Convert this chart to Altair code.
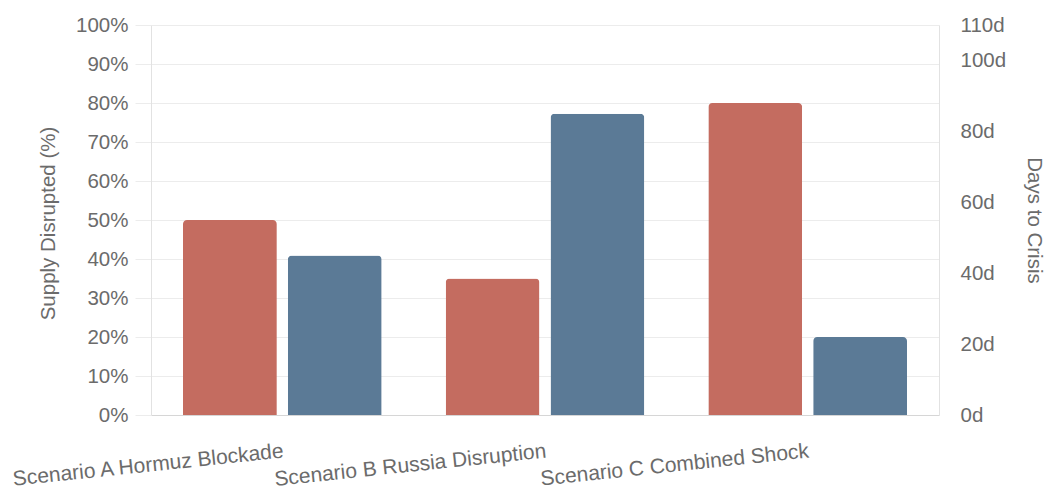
import altair as alt
import pandas as pd

# Scenario stress-test results
scenarios = ["Scenario A Hormuz Blockade", "Scenario B Russia Disruption", "Scenario C Combined Shock"]
supply_disrupted = [50, 35, 80]   # percent of supply lost
days_to_crisis = [45, 85, 22]     # days until crisis threshold

RED = "#c46c60"
BLUE = "#5b7a96"
FONT = "Liberation Sans"
TEXT = "#6b6b6b"
GRID = "#ececec"

df = pd.DataFrame({
    "scenario": scenarios,
    "supply": supply_disrupted,
    "days": days_to_crisis,
})

x_enc = alt.X(
    "scenario:N",
    sort=scenarios,
    title=None,
    scale=alt.Scale(paddingInner=0, paddingOuter=0),
    axis=alt.Axis(
        labelAngle=-6,
        labelAlign="right",
        labelBaseline="top",
        labelPadding=25,
        ticks=False,
        domainColor="#d6d6d6",
        labelFont=FONT,
        labelFontSize=21,
        labelColor=TEXT,
        labelLimit=400,
        grid=False,
    ),
)

offset_scale = alt.Scale(domain=["Supply", "Days"], paddingInner=0.105, paddingOuter=0.305)

supply_bars = (
    alt.Chart(df)
    .transform_calculate(series='"Supply"')
    .mark_bar(color=RED, cornerRadiusTopLeft=4, cornerRadiusTopRight=4)
    .encode(
        x=x_enc,
        xOffset=alt.XOffset("series:N", scale=offset_scale),
        y=alt.Y(
            "supply:Q",
            scale=alt.Scale(domain=[0, 100], nice=False),
            axis=alt.Axis(
                orient="left",
                values=list(range(0, 101, 10)),
                labelExpr="datum.value + '%'",
                title="Supply Disrupted (%)",
                titleFont=FONT,
                titleFontSize=20.5,
                titleFontWeight="normal",
                titleColor=TEXT,
                titleAngle=-90,
                titleX=-103,
                titleY=198,
                titleAlign="center",
                titleBaseline="middle",
                labelFont=FONT,
                labelFontSize=20.5,
                labelColor=TEXT,
                labelPadding=7,
                tickSize=16,
                tickColor=GRID,
                domainColor="#e2e2e2",
                grid=True,
                gridColor=GRID,
            ),
        ),
    )
)

days_bars = (
    alt.Chart(df)
    .transform_calculate(series='"Days"')
    .mark_bar(color=BLUE, cornerRadiusTopLeft=4, cornerRadiusTopRight=4)
    .encode(
        x=x_enc,
        xOffset=alt.XOffset("series:N", scale=offset_scale),
        y=alt.Y(
            "days:Q",
            scale=alt.Scale(domain=[0, 110], nice=False),
            axis=alt.Axis(
                orient="right",
                values=[0, 20, 40, 60, 80, 100, 110],
                labelExpr="datum.value + 'd'",
                title="Days to Crisis",
                titleFont=FONT,
                titleFontSize=20.5,
                titleFontWeight="normal",
                titleColor=TEXT,
                titleAngle=90,
                titleX=94,
                titleY=195,
                titleAlign="center",
                titleBaseline="middle",
                labelFont=FONT,
                labelFontSize=20.5,
                labelColor=TEXT,
                labelPadding=21,
                ticks=False,
                domainColor="#e2e2e2",
                grid=False,
            ),
        ),
    )
)

chart = (
    alt.layer(supply_bars, days_bars)
    .resolve_scale(y="independent")
    .properties(
        width=788,
        height=390,
        padding={"left": 151, "top": 25, "right": 107, "bottom": 75},
        autosize=alt.AutoSizeParams(type="none"),
        background="white",
    )
    .configure_view(stroke=None)
)

chart.save("out.html", embed_options={"renderer": "svg", "actions": False})
